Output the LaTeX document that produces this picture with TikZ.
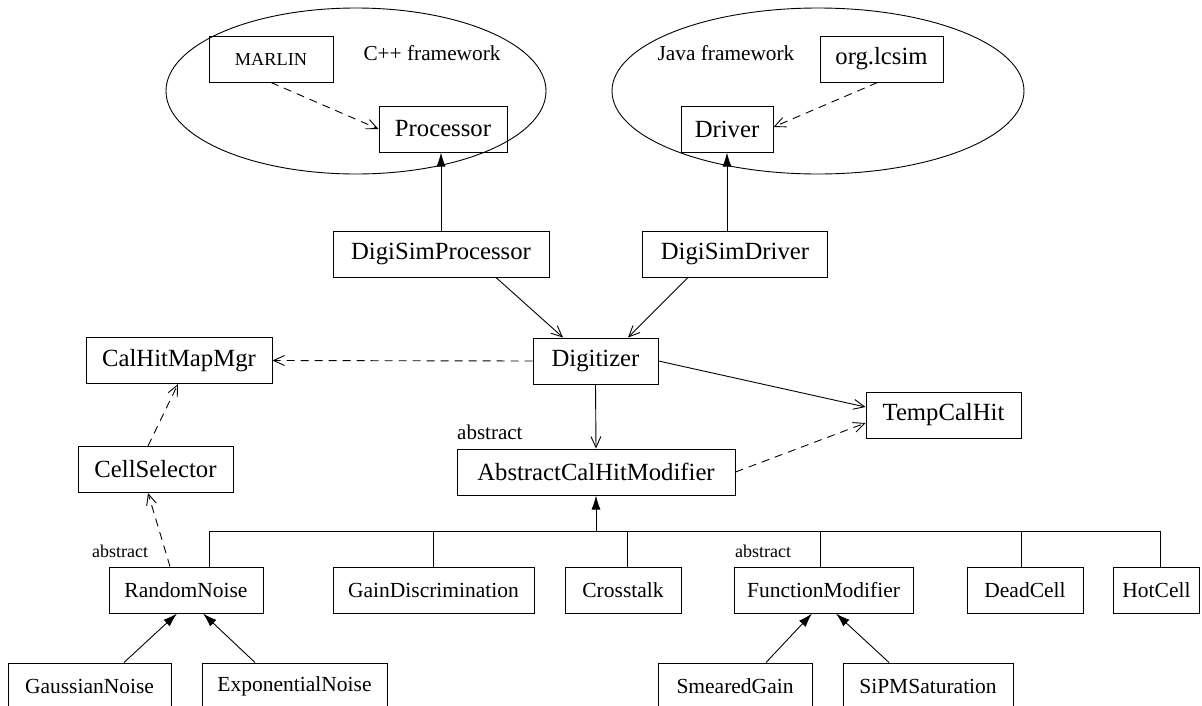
\documentclass[tikz,border=0pt]{standalone}
\usepackage{fontspec}
\setmainfont{Liberation Serif}
\usetikzlibrary{arrows.meta}
\begin{document}
\begin{tikzpicture}[x=1pt,y=-1pt,
 box/.style={draw, line width=1pt, minimum height=46pt, inner sep=0pt, font=\fontsize{24.7}{28}\selectfont},
 sbox/.style={box, font=\fontsize{21.5}{25}\selectfont},
 lbl/.style={inner sep=0pt, font=\fontsize{21.3}{25}\selectfont},
 abslbl/.style={inner sep=0pt, anchor=west, font=\fontsize{18}{21}\selectfont},
 gen/.style={line width=0.9pt, -{Latex[length=14pt,width=9pt]}},
 dep/.style={line width=0.9pt, -{Straight Barb[length=11pt,width=10pt]}},
 ddep/.style={dep, dash pattern=on 8pt off 6pt},
 conn/.style={line width=0.9pt}]
\clip (0,0) rectangle (1202,705);
% frameworks
\draw[conn] (356,91) ellipse [x radius=190pt, y radius=83pt];
\draw[conn] (818,91) ellipse [x radius=206pt, y radius=83pt];
\node[lbl] (cpp) at (432,53) {C++ framework};
\node[lbl] (java) at (726,53) {Java framework};
\node[box, minimum width=124pt, font=\fontsize{18.3}{22}\selectfont] (marlin) at (271,59) {MARLIN};
\node[box, minimum width=128pt] (proc) at (443,129) {Processor};
\node[box, minimum width=123pt] (lcsim) at (881.5,59) {org.lcsim};
\node[box, minimum width=92pt] (drv) at (727,129) {Driver};
% middle
\node[box, minimum width=216pt] (dsp) at (441,254) {DigiSimProcessor};
\node[box, minimum width=185pt] (dsd) at (735,254) {DigiSimDriver};
\node[box, minimum width=125pt] (dig) at (595.5,361) {Digitizer};
\node[box, minimum width=186pt] (chm) at (179,360.5) {CalHitMapMgr};
\node[box, minimum width=155pt] (cs) at (155.5,469.5) {CellSelector};
\node[box, minimum width=155pt] (tch) at (943.5,415) {TempCalHit};
\node[box, minimum width=278pt] (acm) at (596,472) {AbstractCalHitModifier};
\node[abslbl, font=\fontsize{21}{24}\selectfont] (abs1) at (457,432) {abstract};
% bottom row
\node[sbox, minimum width=154pt] (rn) at (186,590) {RandomNoise};
\node[sbox, minimum width=201pt] (gd) at (433.5,590) {GainDiscrimination};
\node[sbox, minimum width=116pt] (ct) at (623,590) {Crosstalk};
\node[sbox, minimum width=179pt] (fm) at (823.5,590) {FunctionModifier};
\node[sbox, minimum width=116pt] (dc) at (1025,590) {DeadCell};
\node[sbox, minimum width=86pt] (hc) at (1156.5,590) {HotCell};
\node[abslbl] (abs2) at (92,551) {abstract};
\node[abslbl] (abs3) at (735,551) {abstract};
% lowest row
\node[sbox, minimum width=163pt] (gn) at (89.5,686) {GaussianNoise};
\node[sbox, minimum width=185pt] (en) at (294.5,686) {ExponentialNoise};
\node[sbox, minimum width=154pt] (sg) at (735,686) {SmearedGain};
\node[sbox, minimum width=170pt] (sp) at (928,686) {SiPMSaturation};
% connectors top
\draw[ddep] (marlin.south) -- (proc.west);
\draw[ddep] ([xshift=-4pt]lcsim.south) -- ([yshift=2pt]drv.east);
\draw[gen] (dsp.north) -- (dsp.north |- proc.south);
\draw[gen] (drv.south |- dsd.north) -- (drv.south);
\draw[dep] ([xshift=55pt]dsp.south) -- ([xshift=-32.5pt]dig.north);
\draw[dep] ([xshift=-47pt]dsd.south) -- ([xshift=32.5pt]dig.north);
\draw[ddep] (dig.west) -- (chm.east);
\draw[ddep] ([xshift=-7.5pt]cs.north) -- ([xshift=-1pt]chm.south);
\draw[ddep] ([xshift=-16pt]rn.north) -- ([xshift=-7.5pt]cs.south);
\draw[dep] (dig.south) -- (acm.north);
\draw[dep] (dig.east) -- ([yshift=8pt]tch.west);
\draw[ddep] (acm.east) -- ([yshift=-8pt]tch.west);
% hierarchy bus
\coordinate (bus) at (596,531);
\coordinate (busL) at (209,531);
\coordinate (busR) at (1160,531);
\coordinate (bct) at (627,531);
\coordinate (bfm) at (820,531);
\coordinate (bdc) at (1021,531);
\draw[gen] (bus) -- (acm.south);
\draw[conn] (busL) -- (busR);
\draw[conn] (busL) -- (busL |- rn.north);
\draw[conn] (gd.north |- bus) -- (gd.north);
\draw[conn] (bct) -- (bct |- ct.north);
\draw[conn] (bfm) -- (bfm |- fm.north);
\draw[conn] (bdc) -- (bdc |- dc.north);
\draw[conn] (busR) -- (busR |- hc.north);
% lowest connectors
\draw[gen] ([xshift=34.5pt]gn.north) -- ([xshift=-9pt]rn.south);
\draw[gen] ([xshift=-39.5pt]en.north) -- ([xshift=17pt]rn.south);
\draw[gen] ([xshift=31pt]sg.north) -- ([xshift=-11.5pt]fm.south);
\draw[gen] ([xshift=-39pt]sp.north) -- ([xshift=12.5pt]fm.south);
\end{tikzpicture}
\end{document}
